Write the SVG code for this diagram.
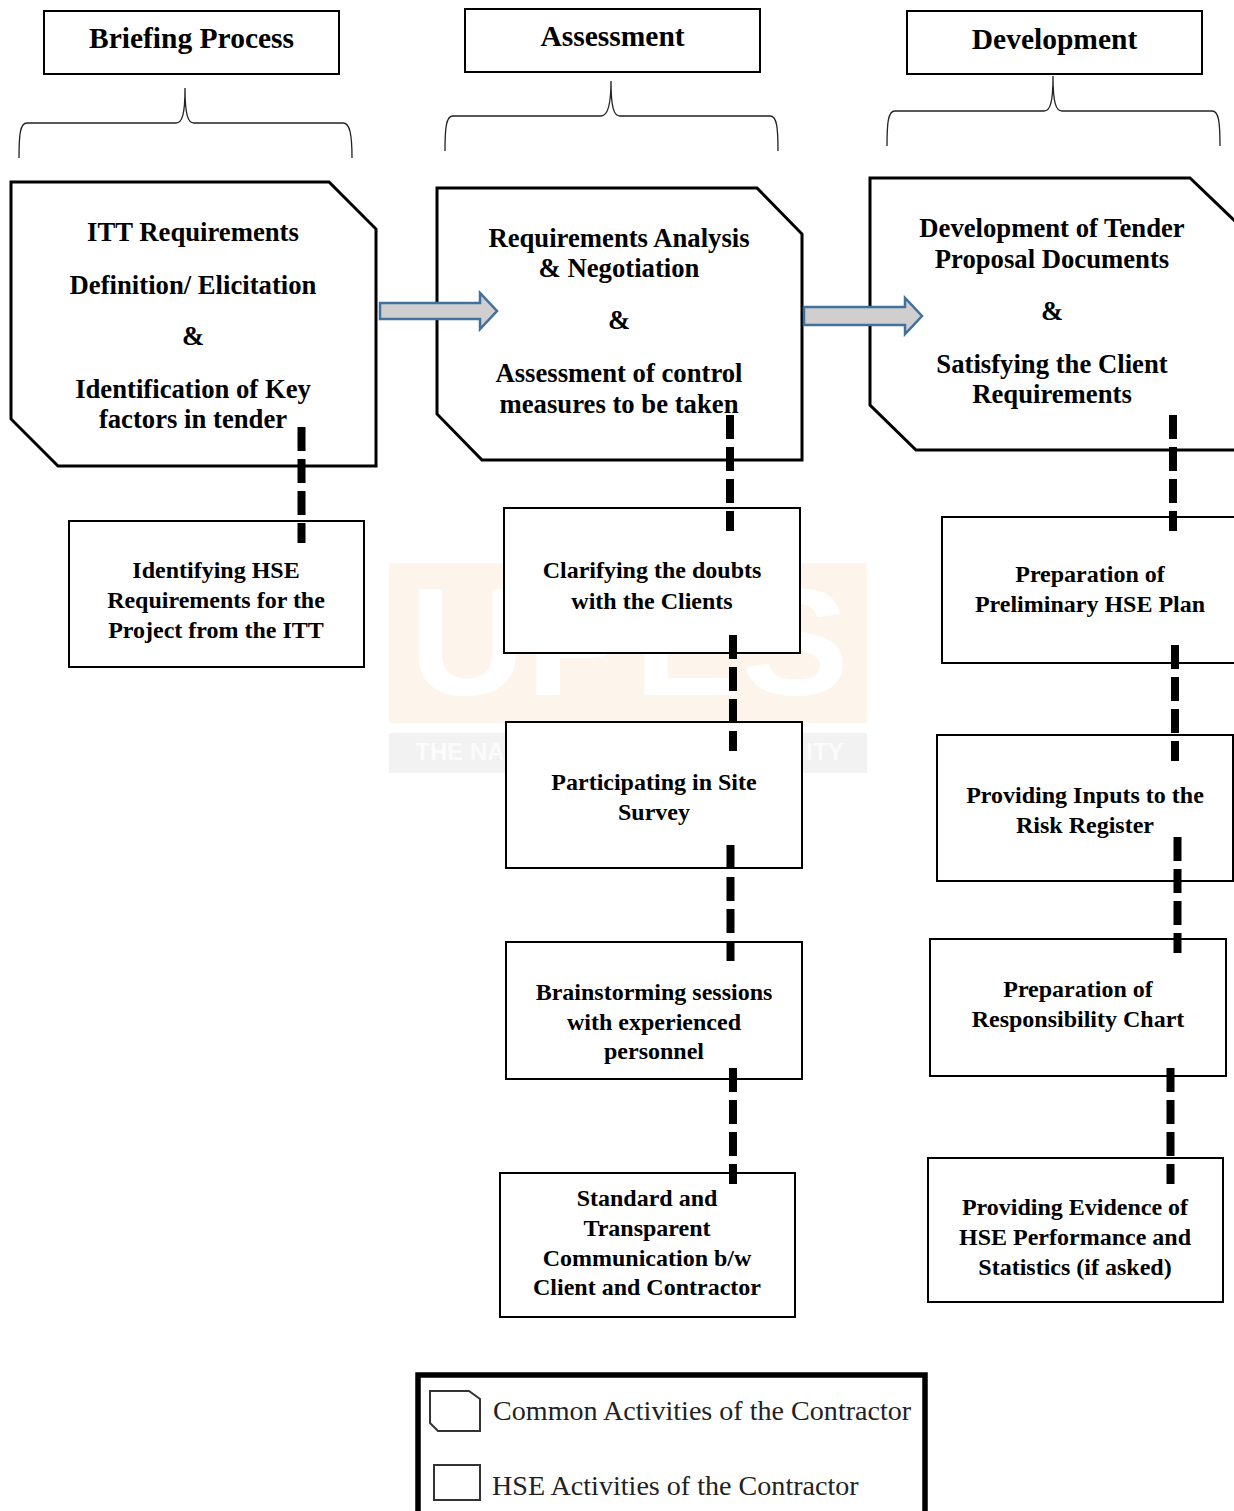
<svg xmlns="http://www.w3.org/2000/svg" width="1234" height="1511" viewBox="0 0 1234 1511">
<style>
text{font-family:"Liberation Serif","Times New Roman",serif;text-anchor:middle;fill:#000}
.h{font-size:29.500px;font-weight:bold}
.m{font-size:26.700px;font-weight:bold}
.b{font-size:24px;font-weight:bold}
.box{fill:#fff;stroke:#000;stroke-width:2}
.hd{fill:#fff;stroke:#000;stroke-width:2}
.oct{fill:#fff;stroke:#000;stroke-width:3}
.brace{fill:none;stroke:#222;stroke-width:1.3}
.arrow{fill:#d0cece;stroke:#41719c;stroke-width:2.5}
.dash{fill:none;stroke:#000;stroke-width:8;stroke-dasharray:24 8}
.leg{font-size:28.100px;text-anchor:start;fill:#222}
</style>
<g id="watermark">
<rect x="389" y="563" width="478" height="160" fill="#fdf4ec"/>
<rect x="389" y="733" width="478" height="40" fill="#f2f2f2"/>
<text x="629" y="695" font-size="153" font-weight="bold" style="font-family:'Liberation Sans',sans-serif;fill:#fff" textLength="440" lengthAdjust="spacingAndGlyphs">UPES</text>
<text x="460" y="760" font-size="24" font-weight="bold" style="font-family:'Liberation Sans',sans-serif;fill:#fbfbfb">THE NA</text>
<text x="825" y="760" font-size="24" font-weight="bold" style="font-family:'Liberation Sans',sans-serif;fill:#fbfbfb">ITY</text>
</g>
<g id="head-briefing"><rect class="hd" x="44" y="11" width="295" height="63"/><text class="h" x="191.500" y="48">Briefing Process</text></g>
<g id="head-assessment"><rect class="hd" x="465" y="9" width="295" height="63"/><text class="h" x="612.500" y="46">Assessment</text></g>
<g id="head-development"><rect class="hd" x="907" y="11" width="295" height="63"/><text class="h" x="1054.500" y="49">Development</text></g>
<g id="braces">
<path class="brace" d="M19 158C19 135 20 123 27 123H176C182 123 185 115 185 88C185 115 188 123 194 123H343C350 123 352 135 352 158"/>
<path class="brace" d="M445 151C445 128 446 116 453 116H601C607 116 611 108 611 81C611 108 614 116 620 116H770C777 116 778 128 778 151"/>
<path class="brace" d="M887 146C887 123 888 111 895 111H1044C1050 111 1053 103 1053 76C1053 103 1056 111 1062 111H1212C1219 111 1220 123 1220 146"/>
</g>
<g id="node-itt"><path class="oct" d="M11 182H329L376 229V466H58L11 419Z"/>
<text class="m" x="193" y="241">ITT Requirements</text><text class="m" x="193" y="294">Definition/ Elicitation</text><text class="m" x="193" y="345">&amp;</text><text class="m" x="193" y="398">Identification of Key</text><text class="m" x="193" y="428">factors in tender</text></g>
<g id="node-analysis"><path class="oct" d="M437 188H757L802 234V460H482L437 414Z"/>
<text class="m" x="619" y="247">Requirements Analysis</text><text class="m" x="619" y="277">&amp; Negotiation</text><text class="m" x="619" y="329">&amp;</text><text class="m" x="619" y="382">Assessment of control</text><text class="m" x="619" y="412.500">measures to be taken</text></g>
<g id="node-tender"><path class="oct" d="M1236 222L1190 178H870V405L916 450H1236"/>
<text class="m" x="1052" y="237">Development of Tender</text><text class="m" x="1052" y="268">Proposal Documents</text><text class="m" x="1052" y="320">&amp;</text><text class="m" x="1052" y="373">Satisfying the Client</text><text class="m" x="1052" y="403">Requirements</text></g>
<g id="node-hse-req"><rect class="box" x="69" y="521" width="295" height="146"/><text class="b" x="216" y="578">Identifying HSE</text><text class="b" x="216" y="608">Requirements for the</text><text class="b" x="216" y="638">Project from the ITT</text></g>
<g id="node-clarify"><rect class="box" x="504" y="508" width="296" height="145"/><text class="b" x="652" y="578">Clarifying the doubts</text><text class="b" x="652" y="609">with the Clients</text></g>
<g id="node-survey"><rect class="box" x="506" y="722" width="296" height="146"/><text class="b" x="654" y="790">Participating in Site</text><text class="b" x="654" y="820">Survey</text></g>
<g id="node-brainstorm"><rect class="box" x="506" y="942" width="296" height="137"/><text class="b" x="654" y="1000">Brainstorming sessions</text><text class="b" x="654" y="1030">with experienced</text><text class="b" x="654" y="1059">personnel</text></g>
<g id="node-comm"><rect class="box" x="500" y="1173" width="295" height="144"/><text class="b" x="647" y="1206">Standard and</text><text class="b" x="647" y="1236">Transparent</text><text class="b" x="647" y="1266">Communication b/w</text><text class="b" x="647" y="1295">Client and Contractor</text></g>
<g id="node-plan"><path class="box" d="M1236 517H942V663H1236"/><text class="b" x="1090" y="582">Preparation of</text><text class="b" x="1090" y="612">Preliminary HSE Plan</text></g>
<g id="node-risk"><rect class="box" x="937" y="735" width="296" height="146"/><text class="b" x="1085" y="803">Providing Inputs to the</text><text class="b" x="1085" y="833">Risk Register</text></g>
<g id="node-chart"><rect class="box" x="930" y="939" width="296" height="137"/><text class="b" x="1078" y="997">Preparation of</text><text class="b" x="1078" y="1027">Responsibility Chart</text></g>
<g id="node-evidence"><rect class="box" x="928" y="1158" width="295" height="144"/><text class="b" x="1075" y="1215">Providing Evidence of</text><text class="b" x="1075" y="1245">HSE Performance and</text><text class="b" x="1075" y="1275">Statistics (if asked)</text></g>
<g id="connectors">
<path class="arrow" d="M380 303H480V293L497 311L480 329V319H380Z"/>
<path class="arrow" d="M804 307H905V298L922 316L905 334V325H804Z"/>
<path class="dash" d="M301.500 427V543"/>
<path class="dash" d="M730 415V531"/>
<path class="dash" d="M733 635V751"/>
<path class="dash" d="M730.500 845V961"/>
<path class="dash" d="M733 1068V1184"/>
<path class="dash" d="M1173 415V531"/>
<path class="dash" d="M1175 645V761"/>
<path class="dash" d="M1177.500 837V953"/>
<path class="dash" d="M1170.500 1068V1184"/>
</g>
<g id="legend">
<path d="M418 1514V1375H925V1514" fill="#fff" stroke="#000" stroke-width="5.500"/>
<path d="M430 1391H469L480 1399V1431H438L430 1423Z" fill="#fff" stroke="#333" stroke-width="2"/>
<rect x="434" y="1465" width="46" height="35" fill="#fff" stroke="#333" stroke-width="2"/>
<text class="leg" x="493" y="1420">Common Activities of the Contractor</text>
<text class="leg" x="492" y="1494.500">HSE Activities of the Contractor</text>
</g>
</svg>
